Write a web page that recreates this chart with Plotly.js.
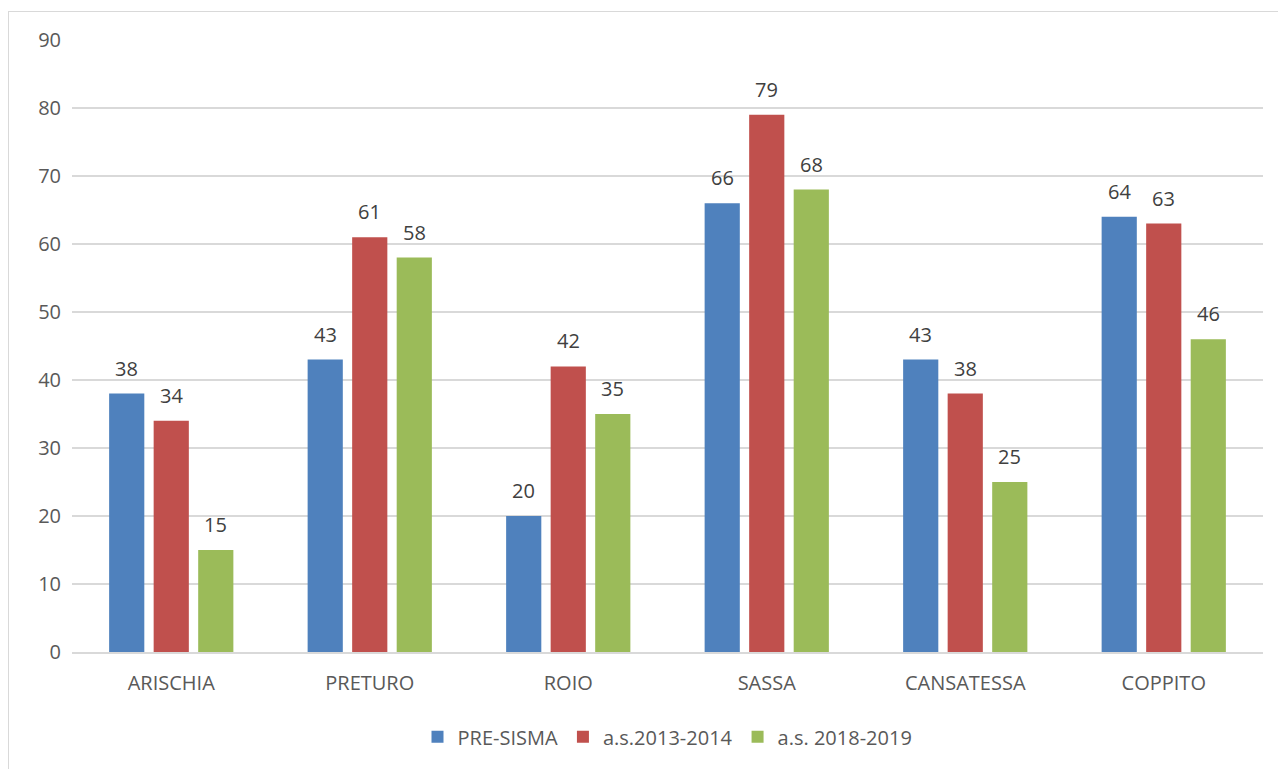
<!DOCTYPE html>
<html>
<head>
<meta charset="utf-8">
<script src="https://cdn.plot.ly/plotly-3.0.1.min.js"></script>
<style>
html,body{margin:0;padding:0;background:#fff;}
#frame{position:absolute;left:8px;top:11px;width:1290px;height:780px;border:1px solid #d9d9d9;box-sizing:border-box;pointer-events:none;z-index:2;}
#chart{position:absolute;left:0;top:0;width:1278px;height:769px;}
</style>
</head>
<body>
<div id="chart"></div>
<div id="frame"></div>
<script>
const categories = ["ARISCHIA", "PRETURO", "ROIO", "SASSA", "CANSATESSA", "COPPITO"];
const preSisma = [38, 43, 20, 66, 43, 64];
const as2013 = [34, 61, 42, 79, 38, 63];
const as2018 = [15, 58, 35, 68, 25, 46];
const seriesNames = ["PRE-SISMA", "a.s.2013-2014", "a.s. 2018-2019"];
const colors = ["#4f81bd", "#c0504d", "#9bbb59"];
const font = "'Open Sans', 'Liberation Sans', sans-serif";

const vals = [preSisma, as2013, as2018];
const traces = vals.map((v, i) => ({
  type: "bar",
  x: categories,
  y: v,
  name: seriesNames[i],
  marker: {color: colors[i]},
  hoverinfo: "none"
}));

const shifts = [-44.5, 0, 44.5];
const annotations = [];
vals.forEach((v, i) => {
  v.forEach((val, j) => {
    annotations.push({
      x: categories[j], y: val, xref: "x", yref: "y",
      text: String(val), showarrow: false,
      xanchor: "center", yanchor: "bottom",
      xshift: shifts[i], yshift: 10,
      font: {size: 20, color: "#404040", family: font}
    });
  });
});

const layout = {
  width: 1278, height: 769,
  margin: {l: 72, r: 15, t: 40, b: 117, autoexpand: false},
  paper_bgcolor: "#fff", plot_bgcolor: "#fff",
  barmode: "group",
  bargap: 0.327,
  bargroupgap: 0.21,
  font: {family: font, color: "#595959", size: 20},
  xaxis: {
    showline: true, linecolor: "#d9d9d9", linewidth: 1.5,
    ticks: "", tickfont: {size: 20, color: "#595959"},
    showgrid: false, ticklabelstandoff: 12, automargin: false
  },
  yaxis: {
    range: [0, 90], dtick: 10,
    showgrid: true, gridcolor: "#d9d9d9", gridwidth: 1.5,
    zeroline: false, showline: false,
    ticks: "", ticklen: 0,
    tickfont: {size: 20, color: "#595959"},
    ticklabelstandoff: 10, automargin: false
  },
  annotations: annotations,
  legend: {
    orientation: "h", x: 0.5, xanchor: "center",
    yref: "container", y: 0.042, yanchor: "middle",
    font: {size: 20, color: "#595959"},
    itemwidth: 30, traceorder: "normal"
  },
  showlegend: true
};

Plotly.newPlot("chart", traces, layout, {displayModeBar: false, staticPlot: true});
</script>
</body>
</html>
